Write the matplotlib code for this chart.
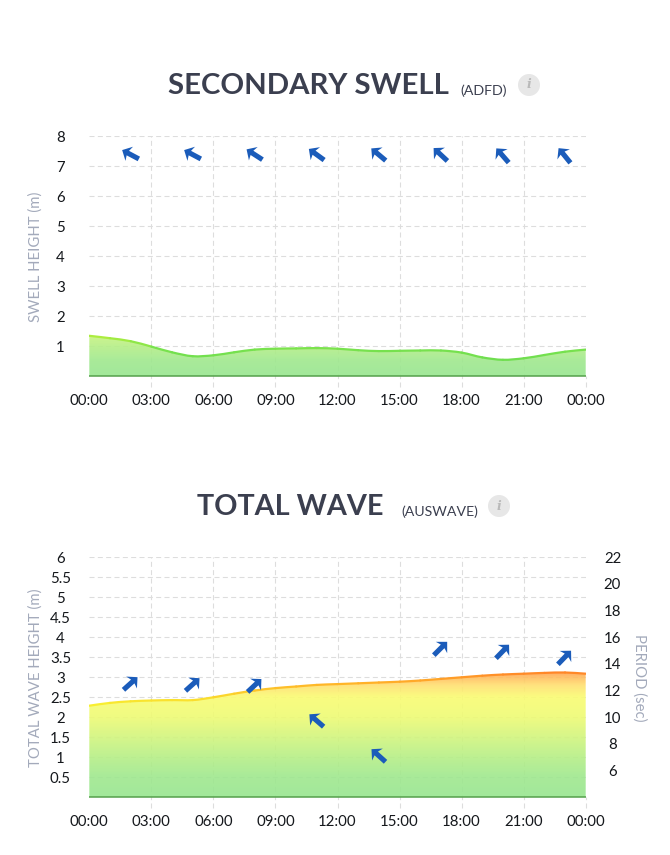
#!/usr/bin/env python3
"""Swell and wave height forecast panels, drawn at 670x855."""
import matplotlib
matplotlib.use("Agg")
import matplotlib.pyplot as plt
import numpy as np
from matplotlib.colors import LinearSegmentedColormap, Normalize
from matplotlib.markers import MarkerStyle
from matplotlib.patches import Circle, PathPatch
from matplotlib.path import Path
from matplotlib.transforms import Affine2D

HOURS = list(range(25))
HOUR_TICKS = [0, 3, 6, 9, 12, 15, 18, 21, 24]
HOUR_LABELS = ["00:00", "03:00", "06:00", "09:00", "12:00", "15:00", "18:00", "21:00", "00:00"]

SWELL_HEIGHT = [1.35, 1.27, 1.17, 0.99, 0.80, 0.67, 0.70, 0.80, 0.89, 0.92, 0.93, 0.94, 0.92,
                0.87, 0.84, 0.85, 0.86, 0.86, 0.79, 0.63, 0.55, 0.60, 0.71, 0.82, 0.89]
SWELL_TICKS = [1, 2, 3, 4, 5, 6, 7, 8]
SWELL_ARROW_HOURS = [1.95, 4.95, 7.95, 10.95, 13.95, 16.95, 19.95, 22.95]
SWELL_ARROW_LEVEL = [7.41, 7.41, 7.41, 7.41, 7.41, 7.41, 7.38, 7.38]
SWELL_ARROW_ANGLE = [62, 62, 57, 54, 50, 47, 41, 39]

WAVE_HEIGHT = [2.29, 2.36, 2.40, 2.42, 2.43, 2.43, 2.50, 2.59, 2.67, 2.73, 2.77, 2.81, 2.83,
               2.85, 2.87, 2.89, 2.92, 2.96, 3.00, 3.04, 3.07, 3.09, 3.11, 3.12, 3.09]
WAVE_TICKS = [0.5, 1, 1.5, 2, 2.5, 3, 3.5, 4, 4.5, 5, 5.5, 6]
WAVE_TICK_LABELS = ["0.5", "1", "1.5", "2", "2.5", "3", "3.5", "4", "4.5", "5", "5.5", "6"]
PERIOD_TICKS = [6, 8, 10, 12, 14, 16, 18, 20, 22]
PERIOD_HOURS = [1.95, 4.95, 7.95, 10.95, 13.95, 16.95, 19.95, 22.95]
PERIOD_SEC = [12.55, 12.5, 12.4, 9.8, 7.15, 15.2, 14.95, 14.5]
PERIOD_ANGLE = [-48, -48, -47, 49, 48, -45, -44, -44]

# height -> colour, same scale on both panels
FILL_STOPS = [(0, "#98e690"), (0.5, "#9fe88e"), (1, "#b6ef86"), (2, "#eefb74"), (2.5, "#fafc72"),
              (2.8, "#ffe070"), (3.15, "#ffa050")]
LINE_STOPS = [(0, "#60d850"), (0.9, "#78e24e"), (1.4, "#b8f03c"), (2.3, "#f8f030"), (2.85, "#ffb428"),
              (3.15, "#ff8228")]
HEIGHT_MAX = 3.15

GRID = "#dddddd"
DASH = (0, (4.5, 3))
TITLE = "#3b3f4f"
AXIS_LABEL = "#a3aabb"
TICK_TEXT = "#15181c"
ARROW = "#1b5cba"
W, H = 670, 855

# arrow pointing up, rotated per point
ARROW_PATH = Path([(0, 1), (0.85, 0.15), (0.27, 0.32), (0.27, -1), (-0.27, -1), (-0.27, 0.32),
                   (-0.85, 0.15), (0, 1)], closed=True)


def make_cmap(stops):
    return LinearSegmentedColormap.from_list("h", [(v / HEIGHT_MAX, c) for v, c in stops])


def px_axes(fig, left, top, right, bottom):
    return fig.add_axes([left / W, 1 - bottom / H, (right - left) / W, (bottom - top) / H])


def curve_segments(values):
    # bezier control points per hour, so the curve runs through every value
    y = np.array(values, dtype=float)
    slope = np.gradient(y)
    segs = []
    for i in range(len(y) - 1):
        segs.append([(i + 1 / 3, y[i] + slope[i] / 3), (i + 2 / 3, y[i + 1] - slope[i + 1] / 3), (i + 1, y[i + 1])])
    return segs


def draw_arrows(ax, hours, levels, angles):
    for hour, level, angle in zip(hours, levels, angles):
        marker = MarkerStyle(ARROW_PATH, transform=Affine2D().rotate_deg(angle))
        ax.plot([hour], [level], marker=marker, ms=13.6, color=ARROW, mew=0, ls="none", zorder=6,
                clip_on=False)


def draw_panel(ax, values, ymax, yticks, ylabels, tick_below):
    ax.set_xlim(0, 24)
    ax.set_ylim(0, ymax)
    ax.set_facecolor("none")
    for spine in ax.spines.values():
        spine.set_visible(False)

    ax.hlines(yticks, 0, 24, colors=GRID, lw=0.8, linestyles=DASH, zorder=1)
    ax.vlines(HOUR_TICKS[1:-1], -tick_below, ymax, colors=GRID, lw=0.8, linestyles=DASH, zorder=1,
              clip_on=False)
    ax.vlines([24], -tick_below, 0, colors=GRID, lw=0.8, linestyles=DASH, zorder=1, clip_on=False)

    segs = curve_segments(values)

    # gradient area, clipped to the curve
    ramp = np.linspace(0, HEIGHT_MAX, 256).reshape(-1, 1)
    img = ax.imshow(ramp, origin="lower", extent=(0, 24, 0, HEIGHT_MAX), aspect="auto",
                    cmap=make_cmap(FILL_STOPS), norm=Normalize(0, HEIGHT_MAX), alpha=0.9, zorder=2)
    verts = [(0, 0), (0, values[0])]
    codes = [Path.MOVETO, Path.LINETO]
    for seg in segs:
        verts += seg
        codes += [Path.CURVE4] * 3
    verts += [(24, 0), (0, 0)]
    codes += [Path.LINETO, Path.CLOSEPOLY]
    clip = PathPatch(Path(verts, codes), transform=ax.transData, fc="none", ec="none")
    ax.add_patch(clip)
    img.set_clip_path(clip)
    ax.set_xlim(0, 24)
    ax.set_ylim(0, ymax)

    # the stroke changes colour with height
    line_cmap = make_cmap(LINE_STOPS)
    for i, seg in enumerate(segs):
        colour = line_cmap((values[i] + values[i + 1]) / 2 / HEIGHT_MAX)
        path = Path([(i, values[i])] + seg, [Path.MOVETO] + [Path.CURVE4] * 3)
        ax.add_patch(PathPatch(path, fc="none", ec=colour, lw=1.6, capstyle="round", zorder=4))

    ax.hlines([0], 0, 24, colors="#55a04b", lw=1.1, zorder=5, clip_on=False)

    ax.set_xticks(HOUR_TICKS)
    ax.set_xticklabels(HOUR_LABELS, fontsize=10.8, color=TICK_TEXT)
    ax.set_yticks(yticks)
    ax.set_yticklabels(ylabels, fontsize=10.8, color=TICK_TEXT, ha="center")
    ax.tick_params(axis="x", length=0, pad=13)
    ax.tick_params(axis="y", length=0, pad=20.8)


def main():
    plt.rcParams["font.family"] = ["Lato", "DejaVu Sans"]
    fig = plt.figure(figsize=(W / 100, H / 100), dpi=100, facecolor="white")

    # page layer in pixel coordinates for titles and info badges
    page = fig.add_axes([0, 0, 1, 1])
    page.set_xlim(0, W)
    page.set_ylim(H, 0)
    page.axis("off")

    page.text(168, 94, "SECONDARY SWELL", fontsize=21.2, fontweight="bold", color=TITLE, va="baseline")
    page.text(460, 95, "(ADFD)", fontsize=10.3, color=TITLE, va="baseline")
    page.text(197, 515.3, "TOTAL WAVE", fontsize=20.7, fontweight="bold", color=TITLE, va="baseline")
    page.text(401, 515.7, "(AUSWAVE)", fontsize=10.2, color=TITLE, va="baseline")
    for cx, cy in [(529, 85), (499, 506)]:
        page.add_patch(Circle((cx, cy), 11, fc="#e7e7e7", ec="none"))
        page.text(cx, cy, "i", fontsize=9, fontweight="bold", fontstyle="italic", color="#b9b9b9",
                  ha="center", va="center", family="DejaVu Serif")

    page.text(36, 257, "SWELL HEIGHT (m)", rotation=90, fontsize=10.7, color=AXIS_LABEL,
              ha="center", va="center")
    page.text(36, 678, "TOTAL WAVE HEIGHT (m)", rotation=90, fontsize=10.7, color=AXIS_LABEL,
              ha="center", va="center")
    page.text(639, 678, "PERIOD (sec)", rotation=270, fontsize=10.7, color=AXIS_LABEL,
              ha="center", va="center")

    swell_ax = px_axes(fig, 89.3, 136.3, 585.7, 376.3)
    draw_panel(swell_ax, SWELL_HEIGHT, 8, SWELL_TICKS, [str(t) for t in SWELL_TICKS], 0.36)
    draw_arrows(swell_ax, SWELL_ARROW_HOURS, SWELL_ARROW_LEVEL, SWELL_ARROW_ANGLE)

    wave_ax = px_axes(fig, 89.3, 557.3, 585.7, 797.3)
    draw_panel(wave_ax, WAVE_HEIGHT, 6, WAVE_TICKS, WAVE_TICK_LABELS, 0.27)

    period_ax = wave_ax.twinx()
    period_ax.set_ylim(4, 22)
    period_ax.set_facecolor("none")
    for spine in period_ax.spines.values():
        spine.set_visible(False)
    period_ax.set_yticks(PERIOD_TICKS)
    period_ax.set_yticklabels([str(t) for t in PERIOD_TICKS], fontsize=10.8, color=TICK_TEXT, ha="center")
    period_ax.tick_params(axis="y", length=0, pad=19.3)
    draw_arrows(period_ax, PERIOD_HOURS, PERIOD_SEC, PERIOD_ANGLE)

    fig.savefig("out.png", dpi=100, facecolor="white")
    plt.close(fig)


if __name__ == "__main__":
    main()
